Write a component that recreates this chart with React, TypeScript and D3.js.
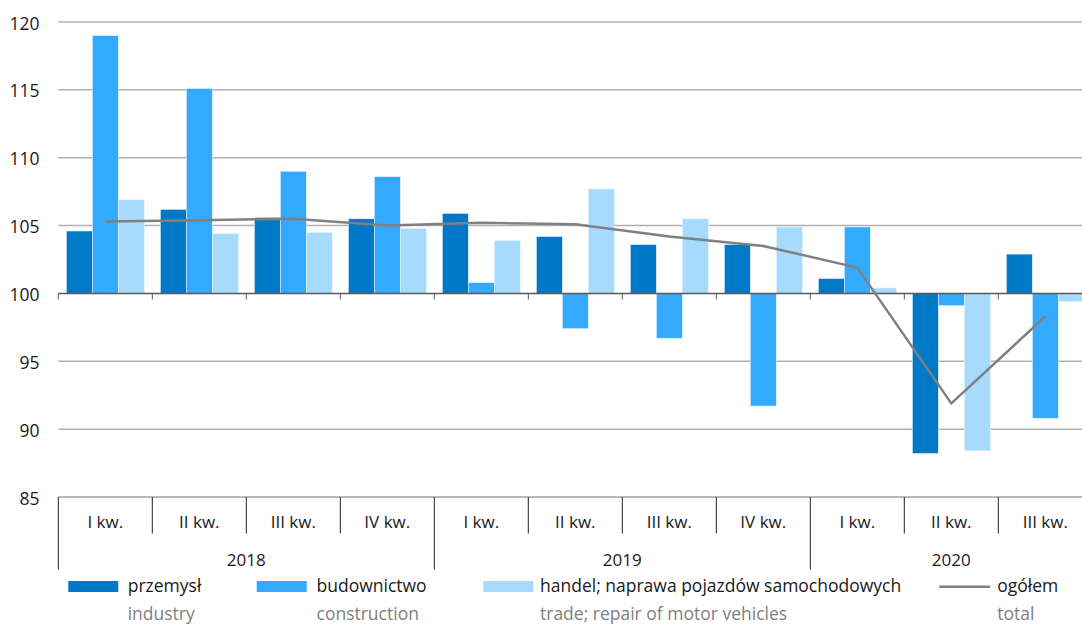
import React from "react";
import * as d3 from "d3";

const quarters = ["I kw.", "II kw.", "III kw.", "IV kw.", "I kw.", "II kw.", "III kw.", "IV kw.", "I kw.", "II kw.", "III kw."];
const years = [
  { label: "2018", start: 0, end: 4 },
  { label: "2019", start: 4, end: 8 },
  { label: "2020", start: 8, end: 11 },
];
const industry = [104.6, 106.2, 105.6, 105.5, 105.9, 104.2, 103.6, 103.6, 101.1, 88.2, 102.9];
const construction = [119.0, 115.1, 109.0, 108.6, 100.8, 97.4, 96.7, 91.7, 104.9, 99.1, 90.8];
const trade = [106.9, 104.4, 104.5, 104.8, 103.9, 107.7, 105.5, 104.9, 100.4, 88.4, 99.4];
const total = [105.3, 105.4, 105.5, 105.0, 105.2, 105.1, 104.2, 103.5, 101.9, 91.9, 98.3];
const yTicks = [85, 90, 95, 100, 105, 110, 115, 120];

const series = [
  { key: "przemysł", en: "industry", values: industry, color: "#0078c8" },
  { key: "budownictwo", en: "construction", values: construction, color: "#33aaff" },
  { key: "handel; naprawa pojazdów samochodowych", en: "trade; repair of motor vehicles", values: trade, color: "#a6daff" },
];

const W = 1082;
const H = 624;
const FONT = "'Open Sans', sans-serif";

export default function App() {
  const left = 58.3;
  const step = 94;
  const x = d3.scaleBand<number>().domain(d3.range(quarters.length)).range([left, left + step * quarters.length]).paddingInner(0).paddingOuter(0);
  const xs = d3.scaleBand<number>().domain([0, 1, 2]).range([0, x.bandwidth()]).paddingInner(0).paddingOuter(0.3077);
  const y = d3.scaleLinear().domain([85, 120]).range([497, 22]);
  const y100 = y(100);
  const line = d3.line<number>().x((_, i) => (x(i) as number) + x.bandwidth() / 2).y((d) => y(d));

  const boundaries = d3.range(quarters.length + 1).map((i) => left + i * x.step());
  const yearBounds = new Set([0, 4, 8, 11]);

  const legendItems = [
    { sx: 68.3, tx: 127.7, kind: "bar", s: series[0] },
    { sx: 256.7, tx: 316.5, kind: "bar", s: series[1] },
    { sx: 483.3, tx: 540, kind: "bar", s: series[2] },
  ];

  return (
    <svg width={W} height={H} style={{ position: "absolute", left: 0, top: 0, background: "#fff" }} fontFamily={FONT}>
      {/* gridlines */}
      {yTicks.filter((t) => t !== 100 && t !== 85).map((t) => (
        <line key={t} x1={left} x2={W} y1={y(t)} y2={y(t)} stroke="#b0b0b0" strokeWidth={1.5} />
      ))}
      {/* y labels */}
      {yTicks.map((t) => (
        <text key={t} x={39.5} y={y(t) + 7.5} textAnchor="end" fontSize={17.5} fill="#1a1a1a">{t}</text>
      ))}
      {/* bars */}
      {series.map((s, si) => (
        <g key={s.key}>
          {s.values.map((v, i) => {
            const bx = (x(i) as number) + (xs(si) as number);
            const top = Math.min(y(v), y100);
            const h = Math.abs(y(v) - y100);
            return <rect key={i} x={bx} y={top} width={xs.bandwidth()} height={h} fill={s.color} stroke="#e8f4ff" strokeWidth={0.6} />;
          })}
        </g>
      ))}
      {/* axis at 100 */}
      <line x1={left} x2={W} y1={y100} y2={y100} stroke="#595959" strokeWidth={1.5} />
      {boundaries.map((bx, i) => (
        <line key={i} x1={bx} x2={bx} y1={y100} y2={y100 + 6} stroke="#595959" strokeWidth={1} />
      ))}
      {/* total line */}
      <path d={line(total) || ""} fill="none" stroke="#808080" strokeWidth={2.5} strokeLinejoin="round" />
      {/* category table */}
      <line x1={left} x2={W} y1={y(85)} y2={y(85)} stroke="#777" strokeWidth={1.2} />
      {boundaries.map((bx, i) => (
        <line key={"b" + i} x1={bx} x2={bx} y1={y(85)} y2={yearBounds.has(i) ? 569.5 : 533.5} stroke="#222" strokeWidth={1} />
      ))}
      {quarters.map((q, i) => (
        <text key={"q" + i} x={(x(i) as number) + x.bandwidth() / 2} y={528} textAnchor="middle" fontSize={17} fill="#1a1a1a">{q}</text>
      ))}
      {years.map((yr) => (
        <text key={yr.label} x={(boundaries[yr.start] + boundaries[yr.end]) / 2} y={566} textAnchor="middle" fontSize={17} fill="#1a1a1a">{yr.label}</text>
      ))}
      {/* legend */}
      {legendItems.map((it) => (
        <g key={it.s.key}>
          <rect x={it.sx} y={581} width={50} height={11} fill={it.s.color} />
          <text x={it.tx} y={592} fontSize={17.5} fill="#1a1a1a">{it.s.key}</text>
          <text x={it.tx} y={620} fontSize={17.5} fill="#808080">{it.s.en}</text>
        </g>
      ))}
      <line x1={939.3} x2={990} y1={586.7} y2={586.7} stroke="#808080" strokeWidth={2.5} />
      <text x={997.3} y={592} fontSize={17.5} fill="#1a1a1a">ogółem</text>
      <text x={997.3} y={620} fontSize={17.5} fill="#808080">total</text>
    </svg>
  );
}
